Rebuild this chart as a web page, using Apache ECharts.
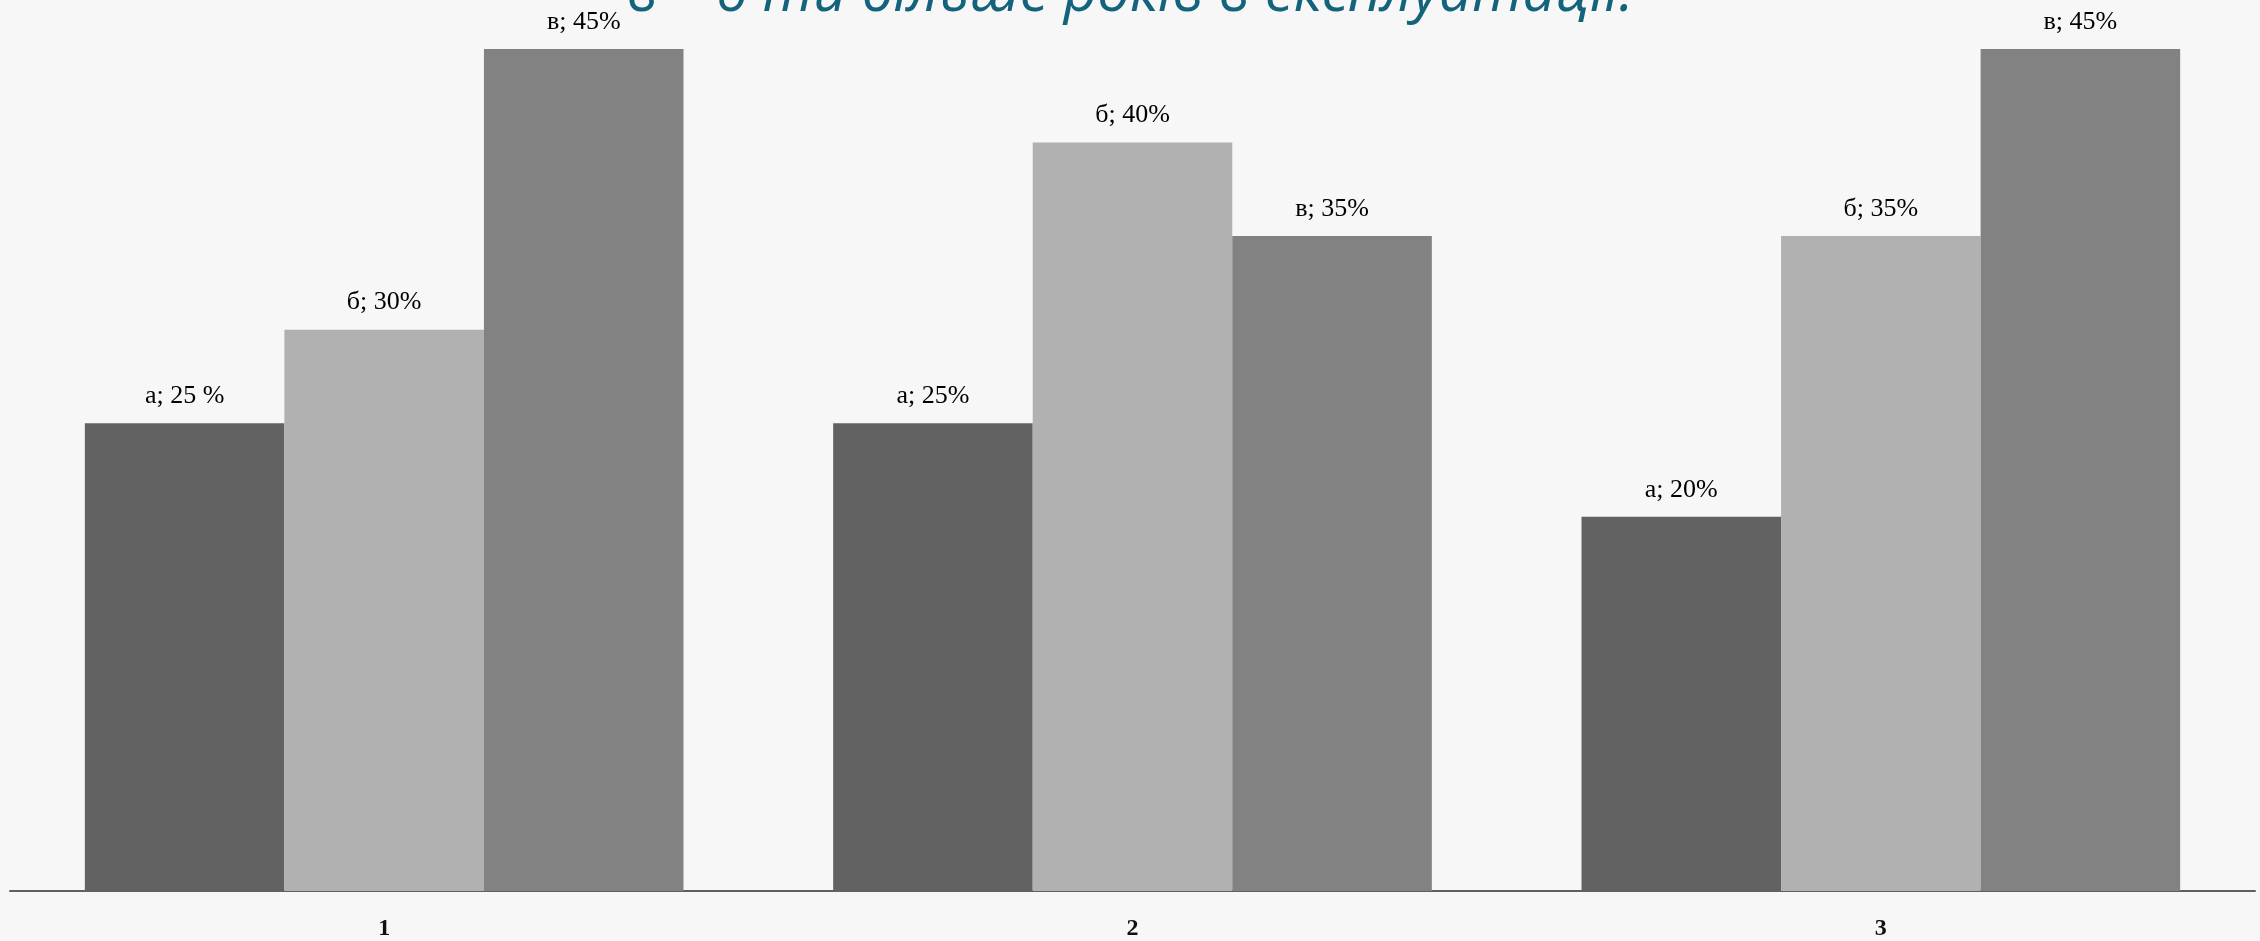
<!DOCTYPE html>
<html>
<head>
<meta charset="utf-8">
<script src="https://cdn.jsdelivr.net/npm/echarts@6/dist/echarts.min.js"></script>
<style>
  html, body { margin: 0; padding: 0; background: #f7f7f7; }
  #chart { width: 2260px; height: 941px; }
</style>
</head>
<body>
<div id="chart"></div>
<script>
// Categories along the x axis
const categories = ['1', '2', '3'];

// Share (%) for each group
const seriesNames = ['а', 'б', 'в'];
const valuesA = [25, 25, 20];
const valuesB = [30, 40, 35];
const valuesC = [45, 35, 45];

// Spacing placed before the percent sign in each label
const pctGapA = [' ', '', ''];
const pctGapB = ['', '', ''];
const pctGapC = ['', '', ''];

const titleText = 'в – 6 ти більше років в експлуатації.';

const colors = ['#626262', '#b1b1b1', '#828282'];

const chart = echarts.init(document.getElementById('chart'));

function makeSeries(name, values, gaps, color) {
  return {
    name: name,
    type: 'bar',
    data: values,
    barGap: '0%',
    barCategoryGap: '20%',
    itemStyle: { color: color },
    label: {
      show: true,
      position: 'top',
      distance: 14,
      fontFamily: 'Liberation Serif',
      fontSize: 26,
      color: '#000',
      formatter: p => `${p.seriesName}; ${p.value}${gaps[p.dataIndex]}%`
    }
  };
}

chart.setOption({
  backgroundColor: '#f7f7f7',
  animation: false,
  graphic: [{
    type: 'text',
    left: 'center',
    top: -35,
    style: {
      text: titleText,
      font: 'italic 58px "Open Sans"',
      fill: '#14637c'
    }
  }],
  grid: { left: 10, right: 5, top: 49, bottom: 48 },
  xAxis: {
    type: 'category',
    data: categories,
    axisLine: { lineStyle: { color: '#606060', width: 2 } },
    axisTick: { show: false },
    axisLabel: {
      margin: 26,
      fontFamily: 'Liberation Serif',
      fontSize: 24,
      fontWeight: 'bold',
      color: '#111'
    }
  },
  yAxis: {
    type: 'value',
    min: 0,
    max: 45,
    show: false,
    splitLine: { show: false }
  },
  series: [
    makeSeries(seriesNames[0], valuesA, pctGapA, colors[0]),
    makeSeries(seriesNames[1], valuesB, pctGapB, colors[1]),
    makeSeries(seriesNames[2], valuesC, pctGapC, colors[2])
  ]
});
</script>
</body>
</html>
